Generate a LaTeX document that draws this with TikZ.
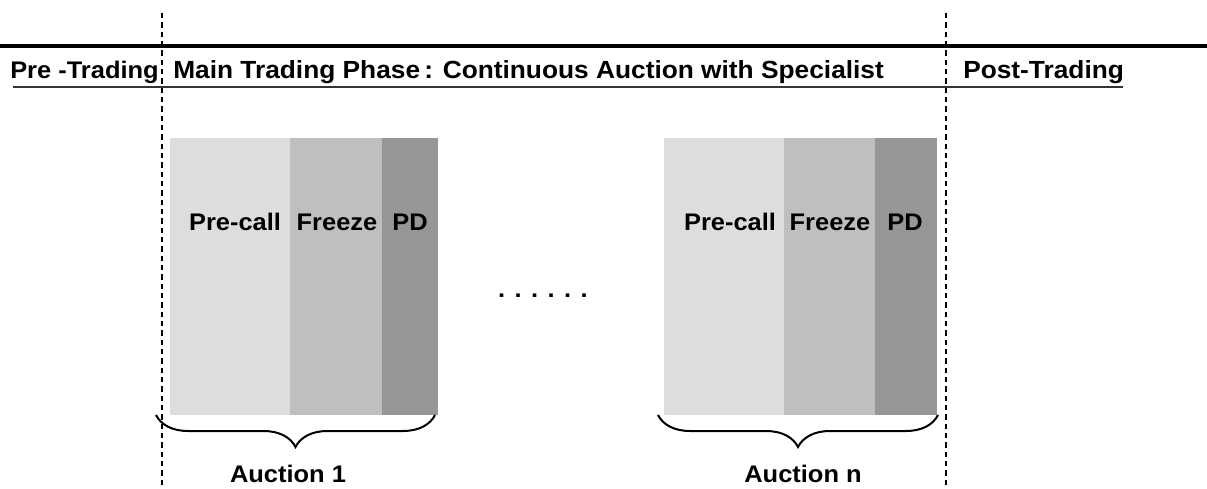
\documentclass[tikz,border=0pt]{standalone}
\usepackage{fontspec}
\setmainfont{Liberation Sans}[FakeStretch=1.06]
\usetikzlibrary{%
	calc,%
	positioning,%
	decorations.pathreplacing,%
}
\tikzset{
	nodes={align=center},
}
\definecolor{clight}{RGB}{221, 221, 221}
\definecolor{cmid}{RGB}{191, 191, 191}
\definecolor{cdark}{RGB}{150, 150, 150}

\begin{document}
\begin{tikzpicture}[x=0.75pt, y=-0.75pt,%
		seg/.style={rectangle, inner sep=0pt, outer sep=0pt, minimum height=207.75pt},%
		lbl/.style={font=\fontsize{18}{20}\selectfont\bfseries, inner sep=0pt},%
		head/.style={font=\fontsize{18.6}{20}\selectfont\bfseries, inner sep=0pt},%
		phase/.style={dash pattern=on 4pt off 3pt, line width=1.8pt},%
		brc/.style={decorate, decoration={brace, amplitude=24pt}, line width=1.5pt}]
	\useasboundingbox (0,0) rectangle (1207,489);

	\draw[line width=2.4pt] (0,46) -- (1207,46);
	\draw[line width=1.1pt, black!80] (13,87) -- (1123,87);

	\node[lbl, anchor=base west] (pre) at (10,78) {Pre -Trading};
	\node[head, anchor=base west] (main) at (173,78) {Main Trading Phase\,: Continuous Auction with Specialist};
	\node[head, anchor=base west] (post) at (963,78) {Post-Trading};

	\node[seg, anchor=north west, fill=clight, minimum width=90pt] (pc1) at (170,138) {};
	\node[seg, fill=cmid, minimum width=69pt] (fr1) [right=0pt of pc1] {};
	\node[seg, fill=cdark, minimum width=42pt] (pd1) [right=0pt of fr1] {};

	\node[seg, anchor=north west, fill=clight, minimum width=90pt] (pc2) at (664,138) {};
	\node[seg, fill=cmid, minimum width=68.25pt] (fr2) [right=0pt of pc2] {};
	\node[seg, fill=cdark, minimum width=46.5pt] (pd2) [right=0pt of fr2] {};

	\node[lbl, anchor=base] (pc1l) at (235,230) {Pre-call};
	\node[lbl, anchor=base] (fr1l) at (337,230) {Freeze};
	\node[lbl, anchor=base] (pd1l) at (410,230) {PD};
	\node[lbl, anchor=base] (pc2l) at (730,230) {Pre-call};
	\node[lbl, anchor=base] (fr2l) at (830,230) {Freeze};
	\node[lbl, anchor=base] (pd2l) at (905,230) {PD};

	\node[lbl, anchor=base] (dots) at (543,297) {. . . . . .};

	\coordinate (b1r) at (435,415);
	\coordinate (b1l) at (156,415);
	\coordinate (b2r) at (938,415);
	\coordinate (b2l) at (658,415);
	\draw[brc] (b1r) -- (b1l);
	\draw[brc] (b2r) -- (b2l);

	\node[lbl, anchor=base] (auc1) at (288,482) {Auction 1};
	\node[lbl, anchor=base] (aucn) at (803,482) {Auction n};

	\coordinate (d1top) at (162,13);
	\coordinate (d1bot) at (162,489);
	\coordinate (d2top) at (946,13);
	\coordinate (d2bot) at (946,489);
	\draw[phase] (d1top) -- (d1bot);
	\draw[phase] (d2top) -- (d2bot);
\end{tikzpicture}
\end{document}
